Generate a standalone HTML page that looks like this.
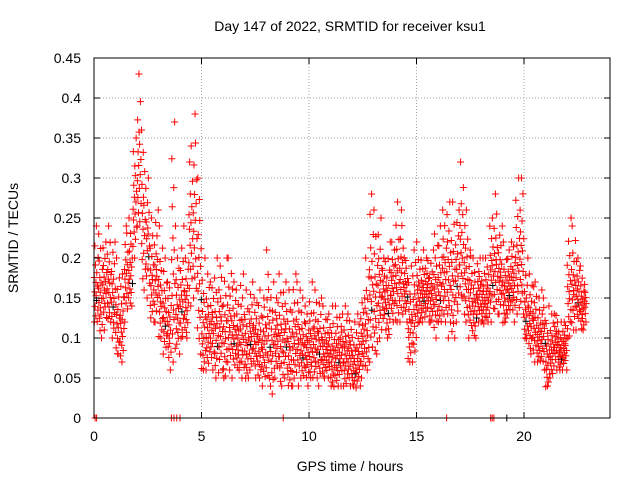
<!DOCTYPE html>
<html><head><meta charset="utf-8"><style>
body{margin:0;background:#fff}
svg{display:block;font-family:"Liberation Sans",sans-serif}
</style></head><body>
<svg id="c" width="640" height="480"></svg>
<script>
const times=[0,0.2,0.4,0.6,0.8,1,1.2,1.4,1.6,1.8,2,2.2,2.4,2.6,2.8,3,3.2,3.4,3.6,3.8,4,4.2,4.4,4.6,4.8,5,5.2,5.4,5.6,5.8,6,6.2,6.4,6.6,6.8,7,7.2,7.4,7.6,7.8,8,8.2,8.4,8.6,8.8,9,9.2,9.4,9.6,9.8,10,10.2,10.4,10.6,10.8,11,11.2,11.4,11.6,11.8,12,12.2,12.4,12.6,12.8,13,13.2,13.4,13.6,13.8,14,14.2,14.4,14.6,14.8,15,15.2,15.4,15.6,15.8,16,16.2,16.4,16.6,16.8,17,17.2,17.4,17.6,17.8,18,18.2,18.4,18.6,18.8,19,19.2,19.4,19.6,19.8,20,20.2,20.4,20.6,20.8,21,21.2,21.4,21.6,21.8,22,22.2,22.4,22.6,22.8];
const hiVals=[0.24,0.23,0.22,0.24,0.22,0.2,0.18,0.24,0.25,0.35,0.43,0.36,0.3,0.25,0.26,0.24,0.2,0.17,0.37,0.2,0.24,0.2,0.34,0.38,0.3,0.2,0.18,0.17,0.2,0.19,0.2,0.2,0.17,0.16,0.18,0.16,0.17,0.15,0.16,0.15,0.21,0.17,0.15,0.18,0.17,0.16,0.18,0.17,0.15,0.14,0.17,0.16,0.15,0.14,0.13,0.14,0.14,0.13,0.14,0.13,0.12,0.13,0.15,0.2,0.28,0.26,0.25,0.2,0.22,0.22,0.27,0.26,0.2,0.19,0.21,0.22,0.21,0.2,0.21,0.23,0.24,0.26,0.27,0.27,0.26,0.32,0.26,0.21,0.2,0.2,0.2,0.2,0.25,0.28,0.24,0.22,0.21,0.22,0.3,0.3,0.2,0.18,0.17,0.15,0.16,0.14,0.13,0.13,0.12,0.12,0.25,0.24,0.2,0.19,0.17];
const loVals=[0.12,0.1,0.11,0.12,0.1,0.08,0.07,0.12,0.14,0.2,0.24,0.16,0.15,0.12,0.12,0.1,0.08,0.06,0.07,0.08,0.1,0.1,0.14,0.15,0.08,0.06,0.06,0.06,0.05,0.06,0.05,0.06,0.05,0.06,0.05,0.05,0.06,0.05,0.05,0.04,0.05,0.03,0.05,0.04,0.05,0.04,0.04,0.04,0.05,0.04,0.05,0.05,0.04,0.05,0.05,0.04,0.04,0.04,0.04,0.04,0.04,0.04,0.05,0.06,0.07,0.08,0.1,0.11,0.1,0.12,0.12,0.12,0.12,0.07,0.07,0.12,0.12,0.12,0.12,0.1,0.12,0.12,0.1,0.1,0.12,0.15,0.12,0.1,0.1,0.12,0.12,0.12,0.12,0.13,0.13,0.12,0.13,0.12,0.13,0.13,0.1,0.08,0.07,0.07,0.06,0.04,0.05,0.06,0.06,0.06,0.1,0.11,0.11,0.11,0.12];
const zeroTimes=[0.05,0.12,3.6,3.72,3.85,4.0,8.8,16.4,18.45,18.52,18.6];
const zeroTimesBlack=[19.2];
const xTicks=[0,5,10,15,20];
const yTicks=[0,0.05,0.1,0.15,0.2,0.25,0.3,0.35,0.4,0.45];
const yTickLabels=["0","0.05","0.1","0.15","0.2","0.25","0.3","0.35","0.4","0.45"];

const L=94,R=610,T=58,B=418,XMAX=24,YMAX=0.45;
const X=v=>L+v/XMAX*(R-L), Y=v=>B-v/YMAX*(B-T);
const svg=document.getElementById('c'),NS='http://www.w3.org/2000/svg';
function mk(tag,at,parent){const e=document.createElementNS(NS,tag);for(const k in at)e.setAttribute(k,at[k]);(parent||svg).appendChild(e);return e;}

const grid=mk('g',{});


xTicks.forEach(t=>{if(t>0)mk('line',{x1:X(t),x2:X(t),y1:T,y2:B,stroke:'#a0a0a0','stroke-dasharray':'1,2'},grid);});
yTicks.forEach(t=>{if(t>0&&t<YMAX)mk('line',{x1:L,x2:R,y1:Y(t),y2:Y(t),stroke:'#a0a0a0','stroke-dasharray':'1,2'},grid);});

const pts=mk('g',{});


const fr=[0,0.07,0.13,0.19,0.23,0.29,0.34,0.38,0.44,0.48,0.53,0.58,0.66,0.74,0.86,1];
const off=[0.02,0.15,0.08,0.18,0.05,0.12,0.1,0.03,0.16,0.09,0.01,0.13,0.07,0.19,0.04,0.11];
function plus(x,y,col,g){mk('path',{d:`M${x-3.5},${y}h7M${x},${y-3.5}v7`,stroke:col,'stroke-width':1,fill:'none'},g);}
times.forEach((t,i)=>{
  const lo=loVals[i],hi=hiVals[i];
  fr.forEach((f,j)=>{
    const jit=((i*7+j*5)%5-2)*0.004;
    const v=lo+(hi-lo)*f+(f>0&&f<1?jit:0), tt=t+off[(j+i)%16];
    if(tt>22.9)return;
    plus(X(tt),Y(v),(j===5&&i%4===0)?'#000':'#f00',pts);
  });
});
zeroTimes.forEach(t=>plus(X(t),Y(0),'#f00',pts));
zeroTimesBlack.forEach(t=>plus(X(t),Y(0),'#000',pts));

const fr2=mk('rect',{x:L,y:T,width:R-L,height:B-T,fill:'none',stroke:'#000'});



const ax=mk('g',{'font-size':14});


xTicks.forEach(t=>{
  mk('line',{x1:X(t),x2:X(t),y1:B,y2:B-6,stroke:'#000'},ax);
  mk('line',{x1:X(t),x2:X(t),y1:T,y2:T+6,stroke:'#000'},ax);
  const tx=mk('text',{x:X(t),y:B+23,'text-anchor':'middle'},ax);tx.textContent=t;
  
  
});
yTicks.forEach((t,i)=>{
  mk('line',{x1:L,x2:L+6,y1:Y(t),y2:Y(t),stroke:'#000'},ax);
  mk('line',{x1:R,x2:R-6,y1:Y(t),y2:Y(t),stroke:'#000'},ax);
  const tx=mk('text',{x:L-13,y:Y(t)+5,'text-anchor':'end'},ax);tx.textContent=yTickLabels[i];
  
  
});
const ttl=mk('text',{x:350,y:31,'text-anchor':'middle','font-size':14});ttl.textContent='Day 147 of 2022, SRMTID for receiver ksu1';


const xl=mk('text',{x:350,y:471,'text-anchor':'middle','font-size':14});xl.textContent='GPS time / hours';


const yl=mk('text',{x:18,y:238,'text-anchor':'middle','font-size':14,transform:'rotate(-90 18 238)'});yl.textContent='SRMTID / TECUs';


</script>
</body></html>
